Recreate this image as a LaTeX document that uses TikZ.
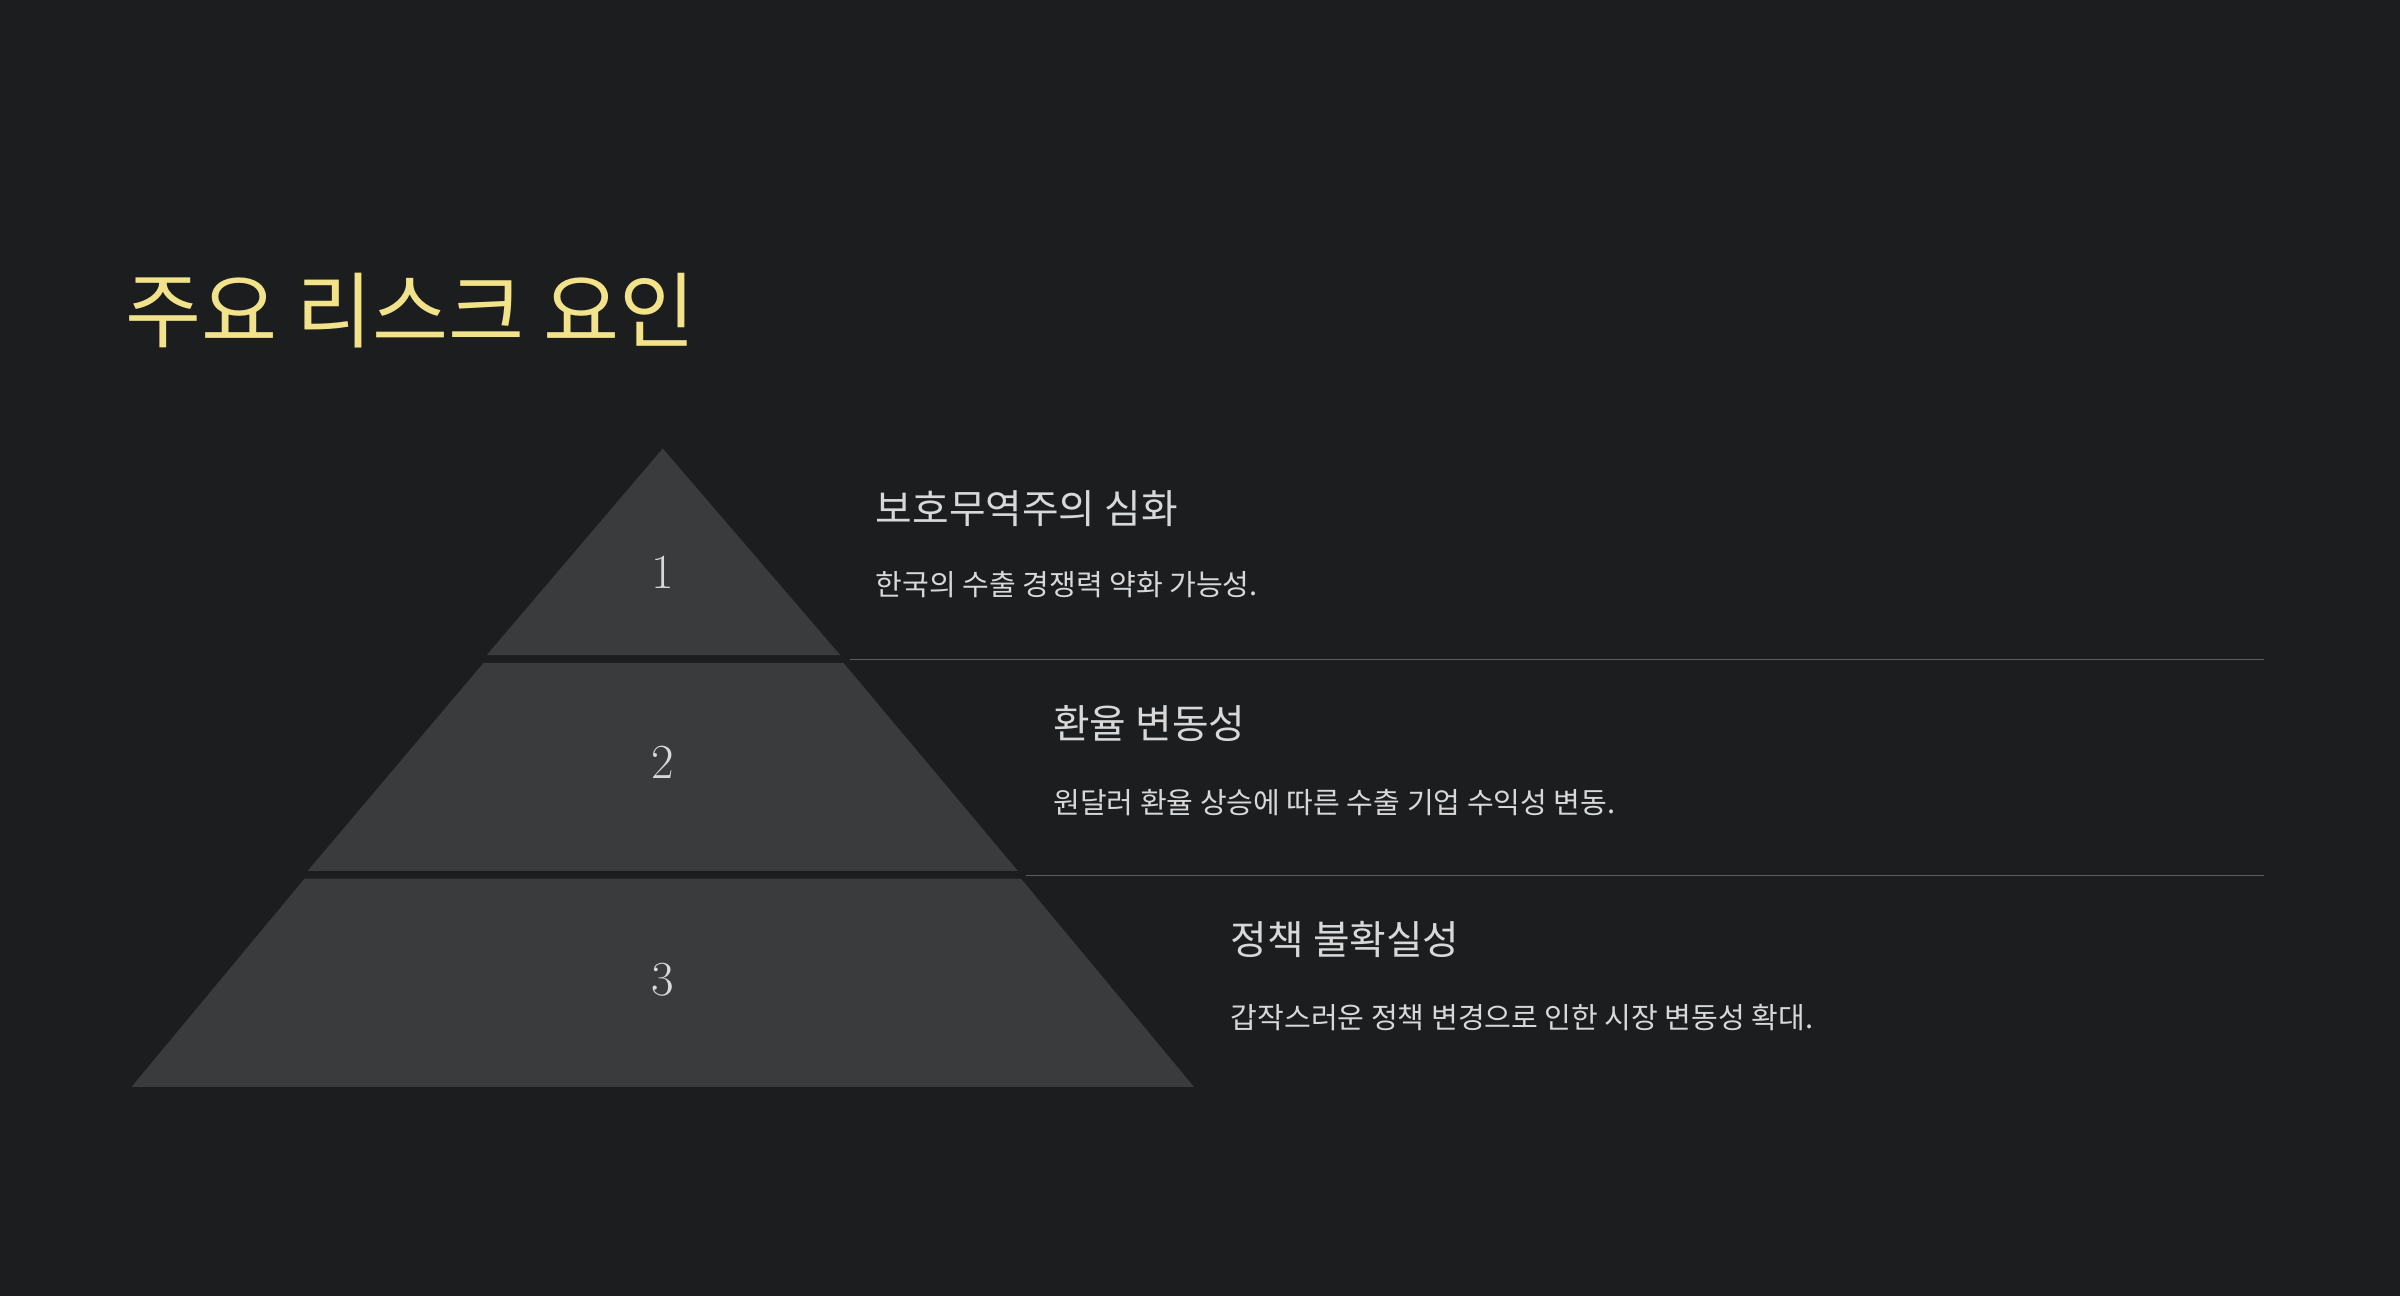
\documentclass[tikz,border=0pt]{standalone}
\usepackage{fontspec}
\setmainfont{Noto Sans CJK KR}
\newfontfamily\numfont{Latin Modern Roman}
\definecolor{bg}{HTML}{1C1D1F}
\definecolor{tier}{HTML}{3A3B3D}
\definecolor{ttl}{HTML}{F2E38A}
\definecolor{txt}{HTML}{D8D8D8}
\definecolor{rule}{HTML}{5A5B5D}
\begin{document}
\begin{tikzpicture}[x=1pt,y=-1pt,
  head/.style={anchor=west,text=txt,font=\fontsize{26}{30}\selectfont,inner sep=0},
  sub/.style={anchor=west,text=txt,font=\fontsize{19}{23}\selectfont,inner sep=0},
  num/.style={text=txt,font=\numfont\fontsize{32}{36}\selectfont},
  tierbox/.style={fill=tier,draw=none},
  sep/.style={draw=rule,line width=1pt}]
\fill[bg] (0,0) rectangle (1568,847);
\useasboundingbox (0,0) rectangle (1568,847);
\node[anchor=west,text=ttl,font=\fontsize{54}{60}\selectfont,inner sep=0] (title) at (82,203) {주요 리스크 요인};
\fill[tierbox] (433,293) -- (549,428) -- (318,428) -- cycle;
\fill[tierbox] (316,433) -- (551,433) -- (665,569) -- (201,569) -- cycle;
\fill[tierbox] (199,574) -- (667,574) -- (780,710) -- (86,710) -- cycle;
\node[num] (n1) at (433,374) {1};
\node[num] (n2) at (433,498) {2};
\node[num] (n3) at (433,640) {3};
\coordinate (a1) at (555,431); \coordinate (b1) at (1479,431);
\coordinate (a2) at (670,572); \coordinate (b2) at (1479,572);
\draw[sep] (a1) -- (b1);
\draw[sep] (a2) -- (b2);
\node[head] (h1) at (572,332) {보호무역주의 심화};
\node[sub] (s1) at (572,382) {한국의 수출 경쟁력 약화 가능성.};
\node[head] (h2) at (688,473) {환율 변동성};
\node[sub] (s2) at (688,524) {원달러 환율 상승에 따른 수출 기업 수익성 변동.};
\node[head] (h3) at (804,614) {정책 불확실성};
\node[sub] (s3) at (804,665) {갑작스러운 정책 변경으로 인한 시장 변동성 확대.};
\end{tikzpicture}
\end{document}
